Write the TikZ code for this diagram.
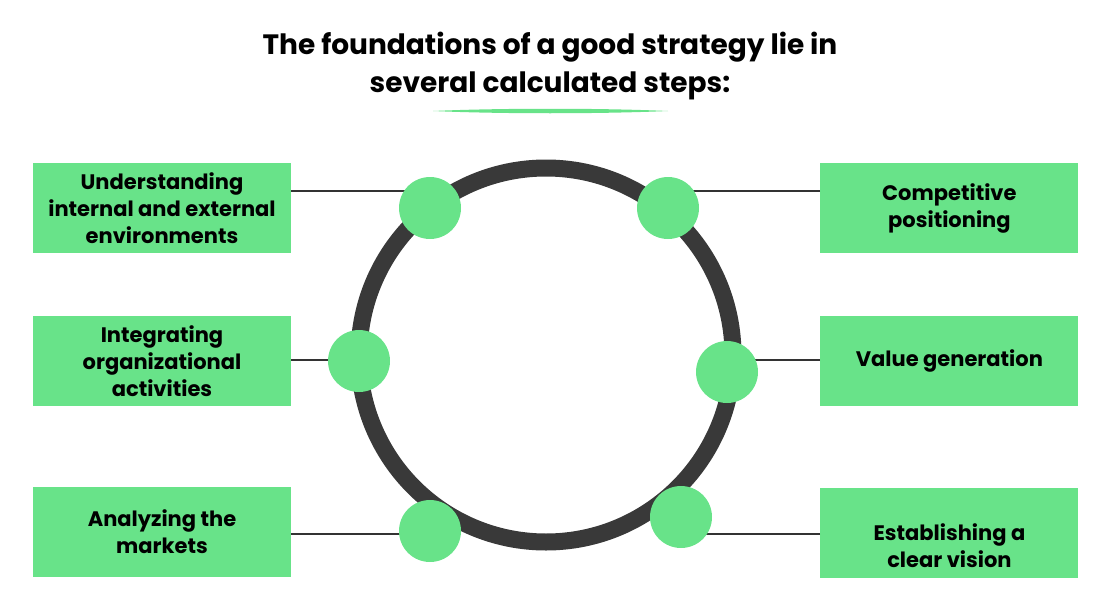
\documentclass[tikz,border=0pt]{standalone}
\usepackage{fontspec}
\setmainfont{Poppins}
\usetikzlibrary{positioning,calc}
\definecolor{boxgreen}{HTML}{68E389}
\definecolor{ringgray}{HTML}{393939}
\definecolor{linkgray}{HTML}{333333}
\begin{document}
\begin{tikzpicture}[
    x=1pt, y=-1pt,
    font=\bfseries\fontsize{21}{27}\selectfont,
    stepbox/.style={rectangle, fill=boxgreen, minimum width=258pt, minimum height=90pt, align=center, inner sep=0pt},
    stepdot/.style={circle, fill=boxgreen, minimum size=62pt, inner sep=0pt},
    link/.style={draw=linkgray, line width=2.5pt},
  ]
    \useasboundingbox (0,0) rectangle (1100,610);

    \node[font=\bfseries\fontsize{28}{38}\selectfont, align=center] (title) at (550,66) {The foundations of a good strategy lie in\\several calculated steps:};
    \fill[boxgreen] (433,111) .. controls (500,108) and (600,108) .. (668,111) .. controls (600,114) and (500,114) .. (433,111) -- cycle;

    \node[circle, draw=ringgray, line width=17pt, minimum size=374pt, inner sep=0pt] (ring) at (546,355) {};

    \node[stepbox] (ubox) at (162,208) {Understanding\\internal and external\\environments};
    \node[stepbox] (ibox) at (162,361) {Integrating\\organizational\\activities};
    \node[stepbox] (abox) at (162,532) {Analyzing the\\markets};
    \node[stepbox, right=529pt of ubox] (cbox) {Competitive\\positioning};
    \node[stepbox, right=529pt of ibox] (vbox) {Value generation};
    \node[stepbox, right=529pt of abox, yshift=-1pt] (ebox) {};
    \node[align=center] (etext) at ([yshift=-13pt]ebox.center) {Establishing a\\clear vision};

    \coordinate (d1) at (430,208);
    \coordinate (d2) at (668,208);
    \coordinate (d3) at (359,361);
    \coordinate (d4) at (727,372);
    \coordinate (d5) at (430,531);
    \coordinate (d6) at (681,517);

    \draw[link] ([yshift=17pt]ubox.east) -| (d1);
    \draw[link] ([yshift=1pt]ibox.east) -| (d3);
    \draw[link] ([yshift=-2pt]abox.east) -| (d5);
    \draw[link] ([yshift=17pt]cbox.west) -| (d2);
    \draw[link] ([yshift=1pt]vbox.west) -| (d4);
    \draw[link] ([yshift=-1pt]ebox.west) -| (d6);

    \foreach \d in {d1,d2,d3,d4,d5,d6}
      \node[stepdot] at (\d) {};
  \end{tikzpicture}
\end{document}
